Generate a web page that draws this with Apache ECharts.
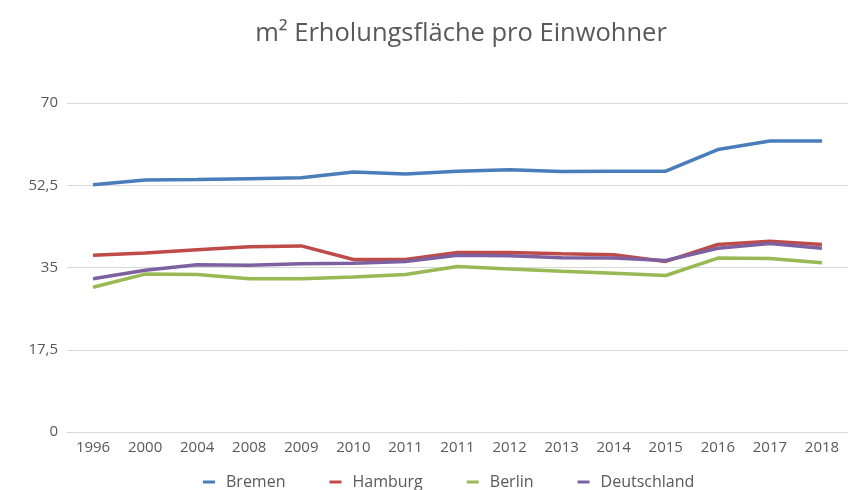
<!DOCTYPE html>
<html><head><meta charset="utf-8">
<script src="https://cdn.jsdelivr.net/npm/echarts@6/dist/echarts.min.js"></script>
<style>html,body{margin:0;padding:0;background:#fff}#c{width:848px;height:490px}</style>
</head><body><div id="c"></div>
<script>
const categories = ['1996','2000','2004','2008','2009','2010','2011','2011','2012','2013','2014','2015','2016','2017','2018'];
const bremen = [52.6,53.6,53.7,53.9,54.1,55.3,54.9,55.5,55.8,55.4,55.5,55.5,60.1,61.9,61.9];
const hamburg = [37.6,38.1,38.8,39.4,39.6,36.7,36.7,38.2,38.2,37.9,37.7,36.3,39.9,40.6,39.9];
const berlin = [30.8,33.6,33.5,32.6,32.6,33.0,33.5,35.2,34.7,34.2,33.8,33.3,37.0,36.9,36.0];
const deutschland = [32.6,34.4,35.6,35.5,35.8,35.9,36.3,37.6,37.5,37.1,37.0,36.5,39.1,40.1,39.1];
const yTicks = [0,17.5,35,52.5,70];
const seriesNames = ['Bremen','Hamburg','Berlin','Deutschland'];
const colors = ['#4a7ebb','#be4b48','#98b954','#7d60a0'];
const seriesData = [bremen, hamburg, berlin, deutschland];

const chart = echarts.init(document.getElementById('c'), null, {renderer:'canvas'});
chart.setOption({
  animation:false,
  color: colors,
  title:{text:'m² Erholungsfläche pro Einwohner', left:456, textAlign:'center', top:16,
    textStyle:{fontFamily:'Open Sans', fontSize:25.5, fontWeight:'normal', color:'#595959'}},
  grid:{left:67,right:0,top:103,bottom:58},
  legend:{top:469, left:198, itemWidth:12, itemHeight:3, itemGap:44, icon:'rect',
    textStyle:{fontFamily:'Open Sans', fontSize:16, color:'#595959', padding:[0,0,0,6]}, data:seriesNames},
  xAxis:{type:'category', data:categories, boundaryGap:true,
    axisLine:{lineStyle:{color:'#d9d9d9'}}, axisTick:{show:false},
    axisLabel:{fontFamily:'Open Sans', fontSize:15, color:'#595959', margin:8, interval:0}},
  yAxis:{type:'value', min:yTicks[0], max:yTicks[yTicks.length-1], interval:17.5,
    axisLine:{show:false}, axisTick:{show:false},
    splitLine:{lineStyle:{color:'#d9d9d9'}},
    axisLabel:{fontFamily:'Open Sans', fontSize:15, color:'#595959', margin:9,
      formatter:v=>String(v).replace('.',',')}},
  series: seriesNames.map((n,i)=>({name:n,type:'line',data:seriesData[i],showSymbol:false,
    lineStyle:{width:3.5,color:colors[i]}, itemStyle:{color:colors[i]}}))
});
</script></body></html>
